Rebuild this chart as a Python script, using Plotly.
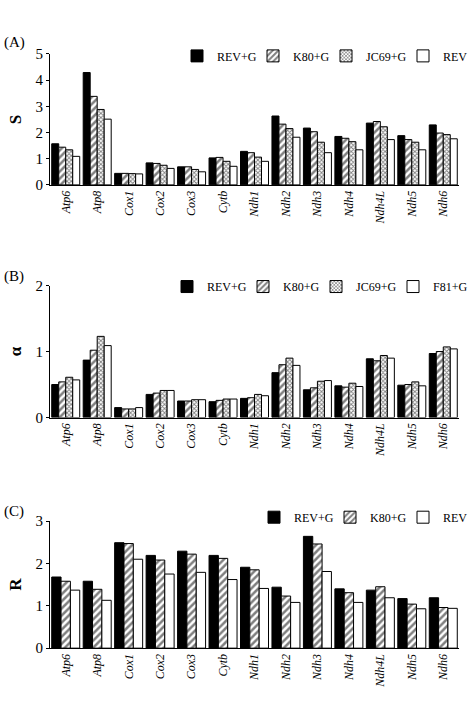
import plotly.graph_objects as go

genes = ["Atp6", "Atp8", "Cox1", "Cox2", "Cox3", "Cytb", "Ndh1", "Ndh2",
         "Ndh3", "Ndh4", "Ndh4L", "Ndh5", "Ndh6"]

# Panel A: S
S_revg = [1.57, 4.29, 0.44, 0.84, 0.69, 1.03, 1.28, 2.63, 2.17, 1.85, 2.36, 1.88, 2.29]
S_k80g = [1.44, 3.38, 0.44, 0.82, 0.69, 1.05, 1.23, 2.32, 2.03, 1.78, 2.42, 1.73, 1.98]
S_jc69g = [1.34, 2.88, 0.43, 0.75, 0.59, 0.90, 1.06, 2.15, 1.63, 1.65, 2.22, 1.63, 1.92]
S_rev = [1.09, 2.51, 0.42, 0.63, 0.50, 0.71, 0.90, 1.82, 1.23, 1.34, 1.73, 1.34, 1.76]

# Panel B: alpha
A_revg = [0.50, 0.87, 0.15, 0.35, 0.25, 0.24, 0.29, 0.68, 0.42, 0.48, 0.89, 0.49, 0.97]
A_k80g = [0.54, 1.02, 0.13, 0.37, 0.25, 0.26, 0.30, 0.80, 0.45, 0.46, 0.86, 0.50, 1.00]
A_jc69g = [0.61, 1.23, 0.13, 0.41, 0.27, 0.28, 0.35, 0.90, 0.55, 0.52, 0.94, 0.54, 1.07]
A_f81g = [0.57, 1.09, 0.15, 0.41, 0.27, 0.28, 0.33, 0.79, 0.56, 0.47, 0.90, 0.48, 1.04]

# Panel C: R
R_revg = [1.68, 1.58, 2.49, 2.19, 2.29, 2.19, 1.91, 1.44, 2.64, 1.40, 1.37, 1.17, 1.19]
R_k80g = [1.58, 1.39, 2.47, 2.08, 2.22, 2.12, 1.85, 1.23, 2.46, 1.31, 1.45, 1.04, 0.96]
R_rev = [1.37, 1.13, 2.10, 1.75, 1.79, 1.62, 1.41, 1.08, 1.81, 1.08, 1.19, 0.93, 0.94]

SERIF = "Liberation Serif"

STYLES = {
    "solid": dict(color="black", line=dict(color="black", width=1)),
    "hatch": dict(color="white", line=dict(color="black", width=1),
                  pattern=dict(shape="/", fgcolor="black", bgcolor="white", size=5, solidity=0.5)),
    "grey": dict(color="white", line=dict(color="black", width=1),
                 pattern=dict(shape="x", fgcolor="black", bgcolor="white", size=3, solidity=0.5)),
    "white": dict(color="white", line=dict(color="black", width=1)),
}

# legend entry widths (tightened spacing)
LW = {"REV+G": 31, "K80+G": 28, "JC69+G": 32, "REV": 20, "F81+G": 30}

panels = [
    ("", "legend", [("REV+G", S_revg, "solid"), ("K80+G", S_k80g, "hatch"),
                    ("JC69+G", S_jc69g, "grey"), ("REV", S_rev, "white")]),
    ("2", "legend2", [("REV+G", A_revg, "solid"), ("K80+G", A_k80g, "hatch"),
                      ("JC69+G", A_jc69g, "grey"), ("F81+G", A_f81g, "white")]),
    ("3", "legend3", [("REV+G", R_revg, "solid"), ("K80+G", R_k80g, "hatch"),
                      ("REV", R_rev, "white")]),
]

fig = go.Figure()
for suffix, leg, series in panels:
    for name, vals, sty in series:
        fig.add_trace(go.Bar(x=genes, y=vals, name=name, marker=STYLES[sty],
                             xaxis="x" + suffix, yaxis="y" + suffix, legend=leg,
                             legendwidth=LW[name]))

H = 706.0
def dom(top_px, bot_px):
    return [1 - bot_px / H, 1 - top_px / H]

xdom = [50 / 468, 459 / 468]
ydoms = [dom(47, 181), dom(284, 419), dom(525, 655)]
yranges = [[0, 5], [0, 2], [0, 3]]
ytitles = ["<b>S</b>", "<b>α</b>", "<b>R</b>"]

layout = dict(
    width=468, height=706, margin=dict(l=0, r=0, t=0, b=0),
    paper_bgcolor="white", plot_bgcolor="white",
    barmode="group", bargap=0.11, bargroupgap=0,
    font=dict(family=SERIF, color="black"),
    showlegend=True,
)
for i, suffix in enumerate(["", "2", "3"]):
    xa = "xaxis" + suffix
    ya = "yaxis" + suffix
    layout[xa] = dict(domain=xdom, anchor="y" + suffix, range=[-0.5, 12.5],
                      showline=True, linecolor="black", linewidth=1, ticks="",
                      showgrid=False, tickangle=-90,
                      tickfont=dict(family=SERIF, size=12, style="italic", color="black"))
    layout[ya] = dict(domain=ydoms[i], anchor="x" + suffix, range=yranges[i], dtick=1,
                      showline=True, linecolor="black", linewidth=1, ticks="outside",
                      ticklen=3, tickcolor="black", showgrid=False, zeroline=False,
                      tickfont=dict(family=SERIF, size=15, color="black"),
                      title=dict(text=ytitles[i], standoff=9,
                                 font=dict(family=SERIF, size=17, color="black")))

legend_y = [49, 285, 521]
for i, leg in enumerate(["legend", "legend2", "legend3"]):
    layout[leg] = dict(orientation="h", xanchor="right", x=1.0, yanchor="middle",
                       y=1 - legend_y[i] / H, bgcolor="rgba(0,0,0,0)",
                       font=dict(family=SERIF, size=12, color="black"),
                       itemwidth=30, tracegroupgap=0)

fig.update_layout(**layout)

for txt, ypx in [("(A)", 35), ("(B)", 275), ("(C)", 515)]:
    fig.add_annotation(text=txt, xref="paper", yref="paper", x=2 / 468, y=1 - ypx / H,
                       xanchor="left", yanchor="middle", showarrow=False,
                       font=dict(family=SERIF, size=15, color="black"))

fig.write_html("out.html")
